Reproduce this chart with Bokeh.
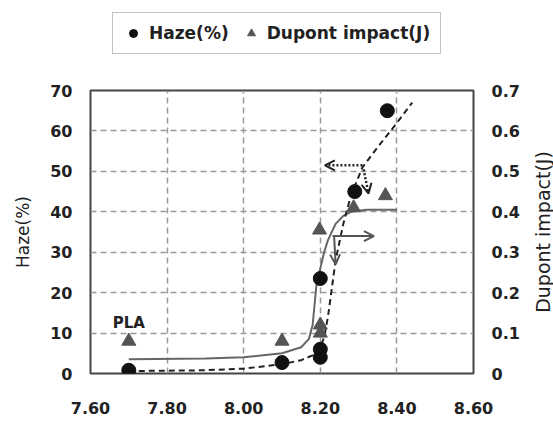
import math
from bokeh.plotting import figure
from bokeh.layouts import column, row
from bokeh.models import (Range1d, LinearAxis, FixedTicker, NumeralTickFormatter,
                          Legend, LegendItem, Arrow, OpenHead)
from bokeh.core.properties import value
from bokeh.embed import file_html
from bokeh.resources import INLINE

# ---- data ----
haze_x = [7.70, 8.10, 8.20, 8.20, 8.20, 8.29, 8.375]
haze_y = [0.8, 2.7, 4.0, 6.0, 23.5, 45.0, 65.0]

dupont_x = [7.70, 8.10, 8.20, 8.20, 8.198, 8.287, 8.37]
dupont_y = [0.08, 0.08, 0.10, 0.12, 0.355, 0.41, 0.44]

haze_fit_x = [7.70, 7.90, 8.00, 8.10, 8.15, 8.18, 8.20, 8.21, 8.22, 8.23, 8.24, 8.26, 8.28, 8.31, 8.35, 8.40, 8.44]
haze_fit_y = [0.6, 0.8, 1.2, 2.3, 3.3, 4.5, 6.5, 9.0, 14.0, 21.0, 28.0, 37.0, 44.0, 51.0, 56.0, 62.0, 67.0]

dupont_fit_x = [7.70, 7.90, 8.00, 8.10, 8.15, 8.17, 8.18, 8.185, 8.19, 8.20, 8.21, 8.22, 8.24, 8.26, 8.28, 8.32, 8.40]
dupont_fit_y = [0.035, 0.037, 0.04, 0.05, 0.065, 0.085, 0.12, 0.17, 0.22, 0.26, 0.30, 0.33, 0.37, 0.39, 0.40, 0.405, 0.405]

# annotation arrows (start x, start y, end x, end y)
haze_arrow_left = (8.31, 51.5, 8.212, 51.5)
haze_arrow_down = (8.313, 50.5, 8.326, 44.5)
dupont_arrow_right = (8.232, 0.34, 8.34, 0.34)
dupont_arrow_down = (8.236, 0.34, 8.24, 0.27)

pla_label = ["PLA"]
pla_x = [7.70]
pla_y = [12.6]

x_ticks = [7.60, 7.80, 8.00, 8.20, 8.40, 8.60]
haze_ticks = [0, 10, 20, 30, 40, 50, 60, 70]
dupont_ticks = [0, 0.1, 0.2, 0.3, 0.4, 0.5, 0.6, 0.7]
dupont_tick_labels = ["0", "0.1", "0.2", "0.3", "0.4", "0.5", "0.6", "0.7"]
legend_labels = ["Haze(%)", "Dupont impact(J)"]
right_title = ["Dupont impact(J)"]

FONT = "DejaVu Sans"
BORDER_L, BORDER_R, BORDER_T, BORDER_B = 90, 52, 10, 48
MAIN_H, LEG_H = 341, 80

# ---------------- main plot ----------------
p = figure(width=525, height=MAIN_H, output_backend="svg", toolbar_location=None,
           x_range=Range1d(7.60, 8.60), y_range=Range1d(0, 70),
           min_border_left=BORDER_L, min_border_right=BORDER_R,
           min_border_top=BORDER_T, min_border_bottom=BORDER_B)
p.extra_y_ranges = {"dupont": Range1d(0, 0.7)}
p.background_fill_color = "white"
p.border_fill_color = "white"
p.outline_line_color = "#444444"
p.outline_line_width = 2

p.xgrid.ticker = FixedTicker(ticks=[7.80, 8.00, 8.20, 8.40])
p.ygrid.ticker = FixedTicker(ticks=[10, 20, 30, 40, 50, 60])
for g in (p.xgrid, p.ygrid):
    g.grid_line_color = "#999999"
    g.grid_line_dash = "6 4"
    g.grid_line_width = 1.5

xa = p.xaxis[0]
xa.ticker = FixedTicker(ticks=x_ticks)
xa.formatter = NumeralTickFormatter(format="0.00")
ya = p.yaxis[0]
ya.ticker = FixedTicker(ticks=haze_ticks)
ya.axis_label = "Haze(%)"
ra = LinearAxis(y_range_name="dupont", ticker=FixedTicker(ticks=dupont_ticks))
ra.major_label_overrides = {t: l for t, l in zip(dupont_ticks, dupont_tick_labels)}
p.add_layout(ra, "right")

for ax in (xa, ya, ra):
    ax.axis_line_color = None
    ax.major_tick_line_color = None
    ax.minor_tick_line_color = None
    ax.major_tick_out = 0
    ax.major_tick_in = 0
    ax.major_label_text_font = FONT
    ax.major_label_text_font_style = "bold"
    ax.major_label_text_font_size = "16px"
    ax.major_label_text_color = "#222222"
    ax.axis_label_text_font = FONT
    ax.axis_label_text_font_style = "normal"
    ax.axis_label_text_color = "#222222"
xa.major_label_standoff = 28
ya.major_label_standoff = 18
ra.major_label_standoff = 18
ya.axis_label_text_font_size = "17px"
ya.axis_label_standoff = 14

p.line(dupont_fit_x, dupont_fit_y, y_range_name="dupont", line_color="#666666", line_width=2)
p.line(haze_fit_x, haze_fit_y, line_color="#222222", line_width=2, line_dash="6 4")

TRI = dict(marker="triangle", size=14, fill_color="#555555", line_color="#555555")
CIRC = dict(marker="circle", size=14, fill_color="#111111", line_color="#111111")
p.scatter(dupont_x, dupont_y, y_range_name="dupont", **TRI)
p.scatter(haze_x, haze_y, **CIRC)

for (x0, y0, x1, y1) in [haze_arrow_left, haze_arrow_down]:
    p.add_layout(Arrow(end=OpenHead(size=10, line_width=2, line_color="#222222"),
                       x_start=x0, y_start=y0, x_end=x1, y_end=y1,
                       line_color="#222222", line_width=2.5, line_dash="2 2"))
for (x0, y0, x1, y1) in [dupont_arrow_right, dupont_arrow_down]:
    p.add_layout(Arrow(end=OpenHead(size=10, line_width=2, line_color="#555555"),
                       x_start=x0, y_start=y0, x_end=x1, y_end=y1, y_range_name="dupont",
                       line_color="#555555", line_width=2))

p.text(x=pla_x, y=pla_y, text=pla_label, text_font=value(FONT), text_font_style="bold",
       text_font_size="15px", text_align="center", text_baseline="middle", text_color="#222222")

# ---------------- right title strip ----------------
side = figure(width=28, height=MAIN_H, output_backend="svg", toolbar_location=None,
              x_range=Range1d(0, 28), y_range=Range1d(0, 70),
              x_axis_location=None, y_axis_location=None,
              min_border_left=0, min_border_right=0,
              min_border_top=BORDER_T, min_border_bottom=BORDER_B)
side.grid.visible = False
side.outline_line_color = None
side.background_fill_color = "white"
side.border_fill_color = "white"
side.text(x=[17], y=[35], text=right_title, angle=math.pi / 2,
          text_font=value(FONT), text_font_size="19px", text_align="center",
          text_baseline="middle", text_color="#222222")

# ---------------- legend strip ----------------
lg = figure(width=525, height=LEG_H, output_backend="svg", toolbar_location=None,
            x_range=Range1d(0, 1), y_range=Range1d(0, 1),
            x_axis_location=None, y_axis_location=None,
            min_border_left=BORDER_L, min_border_right=BORDER_R,
            min_border_top=0, min_border_bottom=0)
lg.grid.visible = False
lg.outline_line_color = None
lg.background_fill_color = "white"
lg.border_fill_color = "white"
nan = float("nan")
c_key = lg.scatter(x=[nan], y=[nan], marker="circle", size=12, fill_color="#111111", line_color="#111111")
t_key = lg.scatter(x=[nan], y=[nan], marker="triangle", size=13, fill_color="#555555", line_color="#555555")
legend = Legend(items=[LegendItem(label=legend_labels[0], renderers=[c_key]),
                       LegendItem(label=legend_labels[1], renderers=[t_key])],
                orientation="horizontal", location=(22, 26),
                label_text_font=FONT, label_text_font_style="bold", label_text_font_size="17px",
                label_text_color="#222222", glyph_width=20, glyph_height=20,
                label_height=20, label_standoff=6, spacing=12, padding=10, margin=0,
                border_line_color="#888888", border_line_width=1.5,
                background_fill_color="white", background_fill_alpha=1.0)
lg.add_layout(legend, "center")

layout = column(lg, row(p, side, spacing=0), spacing=0)
open("out.html", "w").write(file_html(layout, INLINE))
